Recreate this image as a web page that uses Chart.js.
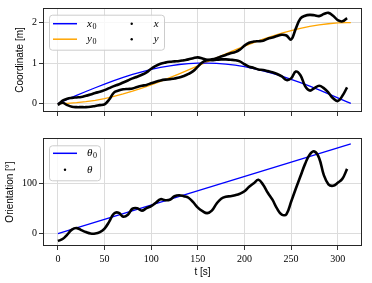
<!DOCTYPE html>
<html>
<head>
<meta charset="utf-8">
<script src="https://cdn.jsdelivr.net/npm/chart.js@4.4.1/dist/chart.umd.min.js"></script>
<style>
  html, body { margin: 0; padding: 0; background: #fff; }
  #wrap { position: relative; width: 372px; height: 283px; }
  canvas { position: absolute; left: 0; }
</style>
</head>
<body>
<div id="wrap">
  <canvas id="topChart" width="372" height="120" style="top:0px"></canvas>
  <canvas id="botChart" width="372" height="153" style="top:130px"></canvas>
</div>
<script>
// reference trajectories (sampled every 10 s)
const tRef = [0,10,20,30,40,50,60,70,80,90,100,110,120,130,140,150,160,170,180,190,200,210,220,230,240,250,260,270,280,290,300,310,314];
const x0Ref = [0,0.100,0.199,0.296,0.389,0.479,0.565,0.644,0.717,0.783,0.841,0.891,0.932,0.964,0.985,0.997,1.000,0.992,0.974,0.946,0.909,0.863,0.808,0.746,0.675,0.598,0.516,0.427,0.335,0.239,0.141,0.042,0.002];
const y0Ref = [0,0.005,0.020,0.045,0.079,0.122,0.175,0.235,0.303,0.378,0.460,0.546,0.638,0.733,0.830,0.929,1.029,1.129,1.227,1.323,1.416,1.505,1.589,1.666,1.737,1.801,1.857,1.904,1.942,1.971,1.990,1.999,2.000];
const tTheta0 = [0, 314];
const theta0Ref = [0, 180];

// measured values (sampled every 5 s)
const tMeas = [0,5,10,15,20,25,30,35,40,45,50,55,60,65,70,75,80,85,90,95,100,105,110,115,120,125,130,135,140,145,150,155,160,165,170,175,180,185,190,195,200,205,210,215,220,225,230,235,240,245,250,255,260,265,270,275,280,285,290,295,300,305,310];
const xMeas = [-0.03,0.07,0.12,0.14,0.15,0.16,0.19,0.22,0.26,0.29,0.33,0.38,0.43,0.47,0.52,0.57,0.62,0.66,0.71,0.77,0.86,0.93,0.98,1.01,1.03,1.04,1.05,1.07,1.09,1.12,1.14,1.11,1.08,1.07,1.08,1.09,1.09,1.08,1.07,1.04,0.97,0.91,0.88,0.84,0.83,0.80,0.77,0.73,0.67,0.58,0.62,0.79,0.70,0.43,0.32,0.38,0.44,0.38,0.27,0.13,0.06,0.19,0.40];
const yMeas = [-0.03,0.02,-0.04,-0.08,-0.09,-0.09,-0.09,-0.08,-0.06,-0.04,-0.02,0.10,0.27,0.32,0.35,0.36,0.37,0.41,0.44,0.46,0.50,0.54,0.57,0.59,0.60,0.62,0.64,0.68,0.73,0.80,0.91,1.02,1.07,1.09,1.12,1.16,1.20,1.24,1.27,1.33,1.43,1.50,1.53,1.54,1.55,1.60,1.63,1.67,1.70,1.68,1.58,1.85,2.10,2.17,2.19,2.18,2.16,2.21,2.24,2.17,2.06,2.03,2.11];
const thetaMeas = [-15,-11,-2,8,11,7,3,0,0,3,10,24,40,42,34,38,50,51,46,51,55,62,69,67,68,75,77,75,72,63,52,45,41,46,60,70,74,75,77,80,85,94,101,108,98,82,68,50,38,39,64,90,115,140,159,165,152,118,99,96,102,110,130];

const tTicks = [0,50,100,150,200,250,300];
const coordTicks = [0,1,2];
const orientTicks = [0,100];

function pts(ts, vs) {
  return ts.map((t, i) => ({x: t, y: vs[i]}));
}

const tickFont = {family: 'Liberation Serif', size: 10};
const titleFont = {family: 'Liberation Sans', size: 10};
const gridStyle = {color: '#dcdcdc', lineWidth: 1, tickColor: '#333', tickLength: 4};

// box around the plot area, like matplotlib spines
const frame = {
  id: 'frame',
  afterDatasetsDraw(chart) {
    const a = chart.chartArea, c = chart.ctx;
    c.save();
    c.strokeStyle = '#262626';
    c.lineWidth = 1;
    c.strokeRect(a.left + 0.5, a.top + 0.5, a.right - a.left - 1, a.bottom - a.top - 1);
    c.restore();
  }
};

// draws "x" italic with a small upright subscript
function mathLabel(c, base, sub, x, y) {
  c.font = 'italic 11px "Liberation Serif"';
  c.fillText(base, x, y);
  const w = c.measureText(base).width;
  if (sub) {
    c.font = '8px "Liberation Serif"';
    c.fillText(sub, x + w + 0.5, y + 3);
  }
}

// legend drawn inside the plot area in columns
const boxLegend = {
  id: 'boxLegend',
  afterDraw(chart, args, o) {
    if (!o.items) return;
    const c = chart.ctx, a = chart.chartArea;
    const bx = a.left + o.left, by = a.top + o.top;
    c.save();
    c.fillStyle = 'rgba(255,255,255,0.8)';
    c.strokeStyle = '#cccccc';
    c.lineWidth = 1;
    c.beginPath();
    c.roundRect(bx + 0.5, by + 0.5, o.width, o.height, 3);
    c.fill();
    c.stroke();
    c.textBaseline = 'middle';
    c.fillStyle = '#000';
    o.items.forEach(it => {
      const ds = chart.data.datasets[it.ds];
      const hx = bx + 4 + it.col * o.colWidth;
      const hy = by + o.rowTop + it.row * o.rowGap;
      if (it.dot) {
        c.fillStyle = '#000';
        c.beginPath();
        c.arc(hx + 12, hy, 1.2, 0, Math.PI * 2);
        c.fill();
      } else {
        c.strokeStyle = ds.borderColor;
        c.lineWidth = 1.5;
        c.beginPath();
        c.moveTo(hx, hy);
        c.lineTo(hx + 24, hy);
        c.stroke();
      }
      c.fillStyle = '#000';
      mathLabel(c, it.base, it.sub, hx + 34, hy);
    });
    c.restore();
  }
};

function lineDs(label, data, color) {
  return {label: label, data: data, borderColor: color, borderWidth: 1.3,
          pointRadius: 0, tension: 0, order: 1};
}
function measDs(label, data) {
  return {label: label, data: data, borderColor: '#000', borderWidth: 2.6,
          pointRadius: 0, tension: 0.4, order: 0};
}

function xScale(showLabels, height) {
  return {
    type: 'linear', min: -16, max: 326,
    afterBuildTicks: s => { s.ticks = tTicks.map(v => ({value: v})); },
    afterFit: s => { s.height = height; },
    grid: gridStyle,
    border: {display: false},
    ticks: {display: showLabels, font: tickFont, color: '#000', padding: 3, maxRotation: 0},
    title: {display: showLabels, text: 't [s]', font: titleFont, color: '#000', padding: {top: 0, bottom: 5}}
  };
}
function yScale(min, max, ticks, title, titlePad) {
  return {
    type: 'linear', min: min, max: max,
    afterBuildTicks: s => { s.ticks = ticks.map(v => ({value: v})); },
    afterFit: s => { s.width = 43; },
    grid: gridStyle,
    border: {display: false},
    ticks: {font: tickFont, color: '#000', padding: 2},
    title: {display: true, text: title, font: titleFont, color: '#000', padding: {top: titlePad, bottom: 0}}
  };
}

const common = {
  responsive: false,
  animation: false,
  devicePixelRatio: 1,
  events: []
};

new Chart(document.getElementById('topChart'), {
  type: 'line',
  data: {
    datasets: [
      lineDs('x0', pts(tRef, x0Ref), '#0000ff'),
      lineDs('y0', pts(tRef, y0Ref), '#ffa500'),
      measDs('x', pts(tMeas, xMeas)),
      measDs('y', pts(tMeas, yMeas))
    ]
  },
  options: Object.assign({}, common, {
    layout: {padding: {top: 5, right: 10, left: 0, bottom: 0}},
    scales: {
      x: xScale(false, 6),
      y: yScale(-0.21, 2.36, coordTicks, 'Coordinate [m]', 14)
    },
    plugins: {
      legend: {display: false},
      tooltip: {enabled: false},
      boxLegend: {
        left: 6, top: 6.7, width: 115, height: 35, colWidth: 66.7, rowTop: 9, rowGap: 15.5,
        items: [
          {ds: 0, col: 0, row: 0, base: 'x', sub: '0'},
          {ds: 1, col: 0, row: 1, base: 'y', sub: '0'},
          {ds: 2, col: 1, row: 0, base: 'x', dot: true},
          {ds: 3, col: 1, row: 1, base: 'y', dot: true}
        ]
      }
    }
  }),
  plugins: [frame, boxLegend]
});

new Chart(document.getElementById('botChart'), {
  type: 'line',
  data: {
    datasets: [
      lineDs('theta0', pts(tTheta0, theta0Ref), '#0000ff'),
      measDs('theta', pts(tMeas, thetaMeas))
    ]
  },
  options: Object.assign({}, common, {
    layout: {padding: {top: 6, right: 10, left: 0, bottom: 0}},
    scales: {
      x: xScale(true, 37),
      y: yScale(-25, 192, orientTicks, 'Orientation [°]', 4)
    },
    plugins: {
      legend: {display: false},
      tooltip: {enabled: false},
      boxLegend: {
        left: 6, top: 7.3, width: 51, height: 35, colWidth: 0, rowTop: 8, rowGap: 16.5,
        items: [
          {ds: 0, col: 0, row: 0, base: 'θ', sub: '0'},
          {ds: 1, col: 0, row: 1, base: 'θ', dot: true}
        ]
      }
    }
  }),
  plugins: [frame, boxLegend]
});
</script>
</body>
</html>
